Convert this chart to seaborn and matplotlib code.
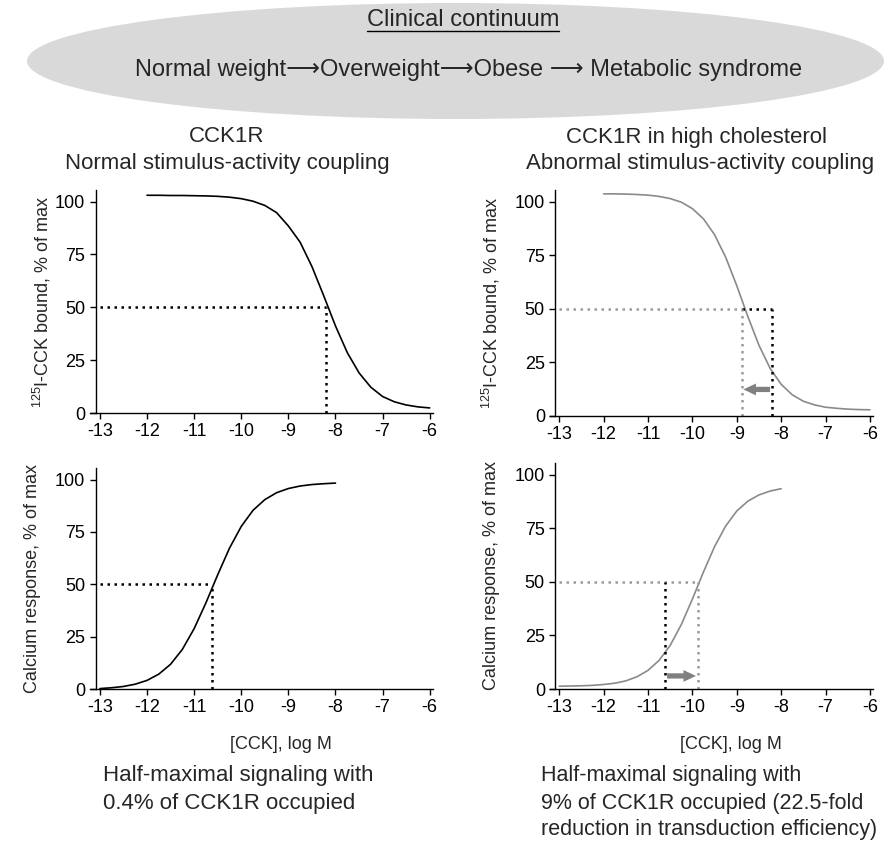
import numpy as np
import pandas as pd
import seaborn as sns
import matplotlib.pyplot as plt
from matplotlib.patches import Ellipse
from matplotlib.lines import Line2D

# ---- data ----
x_ticks = [-13, -12, -11, -10, -9, -8, -7, -6]
y_ticks = [0, 25, 50, 75, 100]

# binding curves, [CCK] log M
log_cck_bind = [-12.0, -11.75, -11.5, -11.25, -11.0, -10.75, -10.5, -10.25, -10.0, -9.75,
                -9.5, -9.25, -9.0, -8.75, -8.5, -8.25, -8.0, -7.75, -7.5, -7.25,
                -7.0, -6.75, -6.5, -6.25, -6.0]
bind_normal = [103.0, 103.0, 102.9, 102.9, 102.8, 102.7, 102.5, 102.1, 101.4, 100.2,
               98.2, 94.8, 88.5, 80.8, 69.3, 55.5, 41.2, 28.6, 19.0, 12.2,
               7.8, 5.3, 3.8, 2.9, 2.4]
bind_high = [103.7, 103.7, 103.6, 103.4, 103.1, 102.5, 101.5, 99.8, 96.8, 92.0,
             84.6, 74.1, 60.8, 46.4, 33.0, 22.3, 14.8, 9.9, 6.9, 5.2,
             4.1, 3.6, 3.2, 3.0, 2.9]

# calcium response curves
log_cck_ca = [-13.0, -12.75, -12.5, -12.25, -12.0, -11.75, -11.5, -11.25, -11.0, -10.75,
              -10.5, -10.25, -10.0, -9.75, -9.5, -9.25, -9.0, -8.75, -8.5, -8.25, -8.0]
calcium_normal = [0.2, 0.6, 1.2, 2.3, 4.1, 7.1, 11.8, 18.9, 28.8, 41.1,
                  54.5, 67.2, 77.6, 85.3, 90.4, 93.7, 95.7, 96.9, 97.6, 98.0, 98.3]
calcium_high = [1.3, 1.4, 1.5, 1.7, 2.1, 2.7, 3.8, 5.7, 8.7, 13.4,
                20.4, 30.1, 42.0, 54.7, 66.5, 76.1, 83.1, 87.7, 90.6, 92.4, 93.5]

# half-maximal points [normal, high cholesterol]
ec50_bind = [-8.2, -8.88]
ec50_calcium = [-10.62, -9.88]
arrow_y = [12.4, 6.1]

sns.set_style('ticks')
plt.rcParams['font.family'] = ['Liberation Sans', 'DejaVu Sans']
plt.rcParams['mathtext.fontset'] = 'custom'
plt.rcParams['mathtext.rm'] = 'Liberation Sans'
plt.rcParams['mathtext.it'] = 'Liberation Sans:italic'
plt.rcParams['axes.unicode_minus'] = False

W, H = 885, 843
fig = plt.figure(figsize=(W / 100, H / 100), dpi=100)


def px_box(x0, x1, y0, y1):
    return [x0 / W, 1 - y1 / H, (x1 - x0) / W, (y1 - y0) / H]


black = '#000000'
grey = '#8a8a8a'
grey_dot = '#9a9a9a'
dots = (0, (1, 1.8))


def style_axis(ax, ylabel, label_x):
    sns.despine(ax=ax)
    ax.set_xlim(-13.21, -5.93)
    ax.set_ylim(0, 105.5)
    ax.set_xticks(x_ticks)
    ax.set_yticks(y_ticks)
    ax.spines['left'].set_position(('data', -13.09))
    for s in ['left', 'bottom']:
        ax.spines[s].set_linewidth(1.0)
        ax.spines[s].set_color('black')
    ax.tick_params(direction='out', length=4.5, width=1.0, labelsize=13,
                   color='black', labelcolor='black', pad=3)
    ax.set_ylabel(ylabel, fontsize=13)
    ax.yaxis.set_label_coords(label_x, 0.5)
    ax.set_xlabel('')


# top ellipse
fig.add_artist(Ellipse((455.5 / W, 1 - 61 / H), 857 / W, 116 / H,
                       transform=fig.transFigure, facecolor='#d9d9d9',
                       edgecolor='none', zorder=0))
t_clin = fig.text(463 / W, 1 - 20 / H, 'Clinical continuum', ha='center', va='center', fontsize=17)
fig.text(469 / W, 1 - 70 / H, 'Normal weight\u27f6Overweight\u27f6Obese \u27f6 Metabolic syndrome',
         ha='center', va='center', fontsize=17)

fig.text(227 / W, 1 - 137 / H, 'CCK1R', ha='center', va='center', fontsize=16)
fig.text(227 / W, 1 - 163 / H, 'Normal stimulus-activity coupling', ha='center', va='center', fontsize=16)
fig.text(697 / W, 1 - 137 / H, 'CCK1R in high cholesterol', ha='center', va='center', fontsize=16)
fig.text(700 / W, 1 - 163 / H, 'Abnormal stimulus-activity coupling', ha='center', va='center', fontsize=16)

bind_label = '$^{125}$I-CCK bound, % of max'
ca_label = 'Calcium response, % of max'

# panel 1: normal binding
ax1 = fig.add_axes(px_box(90, 433, 190, 413))
sns.lineplot(x=log_cck_bind, y=bind_normal, ax=ax1, color=black, lw=1.2)
ax1.plot([-13, ec50_bind[0]], [50, 50], color=black, ls=dots, lw=1.8)
ax1.plot([ec50_bind[0], ec50_bind[0]], [0, 50], color=black, ls=dots, lw=1.8)
style_axis(ax1, bind_label, -0.108)

# panel 2: high cholesterol binding
ax2 = fig.add_axes(px_box(550, 873, 190, 416))
sns.lineplot(x=log_cck_bind, y=bind_high, ax=ax2, color=grey, lw=1.2)
ax2.plot([-13, ec50_bind[1]], [50, 50], color=grey_dot, ls=dots, lw=1.8)
ax2.plot([ec50_bind[1], ec50_bind[0]], [50, 50], color=black, ls=dots, lw=1.8)
ax2.plot([ec50_bind[1], ec50_bind[1]], [0, 50], color=grey_dot, ls=dots, lw=1.8)
ax2.plot([ec50_bind[0], ec50_bind[0]], [0, 50], color=black, ls=dots, lw=1.8)
ax2.annotate('', xy=(ec50_bind[1] + 0.03, arrow_y[0]), xytext=(ec50_bind[0] - 0.05, arrow_y[0]),
             arrowprops=dict(arrowstyle='simple,head_length=0.9,head_width=0.85,tail_width=0.38',
                             color='#808080', lw=0, shrinkA=0, shrinkB=0, mutation_scale=10))
style_axis(ax2, bind_label, -0.149)

# panel 3: normal calcium
ax3 = fig.add_axes(px_box(90, 433, 468, 689))
sns.lineplot(x=log_cck_ca, y=calcium_normal, ax=ax3, color=black, lw=1.2)
ax3.plot([-13, ec50_calcium[0]], [50, 50], color=black, ls=dots, lw=1.8)
ax3.plot([ec50_calcium[0], ec50_calcium[0]], [0, 50], color=black, ls=dots, lw=1.8)
style_axis(ax3, ca_label, -0.143)
ax3.set_xlabel('[CCK], log M', fontsize=13)
ax3.xaxis.set_label_coords((281 - 90) / 343, -(736 - 689) / 221)

# panel 4: high cholesterol calcium
ax4 = fig.add_axes(px_box(550, 873, 463, 689))
sns.lineplot(x=log_cck_ca, y=calcium_high, ax=ax4, color=grey, lw=1.2)
ax4.plot([-13, ec50_calcium[1]], [50, 50], color=grey_dot, ls=dots, lw=1.8)
ax4.plot([ec50_calcium[0], ec50_calcium[0]], [0, 50], color=black, ls=dots, lw=1.8)
ax4.plot([ec50_calcium[1], ec50_calcium[1]], [0, 50], color=grey_dot, ls=dots, lw=1.8)
ax4.annotate('', xy=(ec50_calcium[1] - 0.04, arrow_y[1]), xytext=(ec50_calcium[0] + 0.05, arrow_y[1]),
             arrowprops=dict(arrowstyle='simple,head_length=0.9,head_width=0.85,tail_width=0.38',
                             color='#808080', lw=0, shrinkA=0, shrinkB=0, mutation_scale=10))
style_axis(ax4, ca_label, -0.155)
ax4.set_xlabel('[CCK], log M', fontsize=13)
ax4.xaxis.set_label_coords((731 - 550) / 323, -(736 - 689) / 226)

# notes under the panels
fig.text(103 / W, 1 - 775 / H, 'Half-maximal signaling with', ha='left', va='center', fontsize=16)
fig.text(103 / W, 1 - 803 / H, '0.4% of CCK1R occupied', ha='left', va='center', fontsize=16)
fig.text(541 / W, 1 - 775 / H, 'Half-maximal signaling with', ha='left', va='center', fontsize=15.5)
fig.text(541 / W, 1 - 803 / H, '9% of CCK1R occupied (22.5-fold', ha='left', va='center', fontsize=15.5)
fig.text(541 / W, 1 - 829 / H, 'reduction in transduction efficiency)', ha='left', va='center', fontsize=15.5)

# underline the heading
fig.canvas.draw()
bb = t_clin.get_window_extent()
fig.add_artist(Line2D([bb.x0 / W, bb.x1 / W], [1 - 31 / H, 1 - 31 / H],
                      transform=fig.transFigure, color='black', lw=1.0))

fig.savefig('out.png', dpi=100)
